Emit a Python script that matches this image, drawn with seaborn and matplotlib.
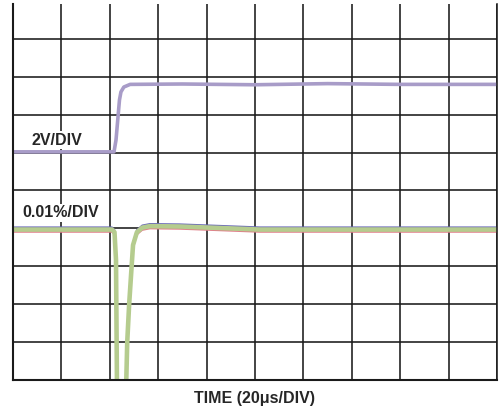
import numpy as np
import pandas as pd
import matplotlib
matplotlib.use("Agg")
import matplotlib.pyplot as plt
import matplotlib.transforms as mtransforms
import seaborn as sns

# ---- data (time in divisions, amplitude in divisions) ----
step_t = [0.0, 1.0, 2.087, 2.128, 2.20, 2.23, 2.29, 2.42, 3.5, 5.0, 6.5, 8.0, 10.0]
step_v = [6.02, 6.02, 6.02, 6.33, 7.39, 7.60, 7.73, 7.80, 7.81, 7.79, 7.82, 7.80, 7.80]

err_t = [0.0, 1.0, 2.045, 2.097, 2.128, 2.149, 2.335, 2.36, 2.40, 2.45, 2.48, 2.56,
         2.67, 2.83, 3.45, 4.28, 5.10, 7.0, 10.0]
err_v = [3.97, 3.97, 3.97, 3.90, 3.17, -0.30, -0.30, 1.0, 2.0, 2.98, 3.56, 3.90,
         4.02, 4.06, 4.05, 4.01, 3.97, 3.97, 3.97]

x_div = list(range(0, 11))
y_div = list(range(0, 10))

labels = {"step": "2V/DIV", "err": "0.01%/DIV", "x": "TIME (20μs/DIV)"}

sns.set_style("white")
plt.rcParams["font.family"] = ["Liberation Sans", "DejaVu Sans"]

fig = plt.figure(figsize=(4.99, 4.11), dpi=100)
ax = fig.add_axes([13 / 499, 31 / 411, 484 / 499, 376 / 411])

df_step = pd.DataFrame({"t": step_t, "v": step_v})
df_err = pd.DataFrame({"t": err_t, "v": err_v})

# thin companion traces (red below, blue above) then thick green
up = mtransforms.offset_copy(ax.transData, fig=fig, x=0, y=2.3, units="dots")
dn = mtransforms.offset_copy(ax.transData, fig=fig, x=0, y=-2.4, units="dots")
sns.lineplot(data=df_err, x="t", y="v", ax=ax, color="#6a6ab8", linewidth=1.2,
             estimator=None, sort=False, transform=up)
sns.lineplot(data=df_err, x="t", y="v", ax=ax, color="#e0808a", linewidth=1.2,
             estimator=None, sort=False, transform=dn)
sns.lineplot(data=df_err, x="t", y="v", ax=ax, color="#b5cc8e", linewidth=3.3,
             estimator=None, sort=False)
sns.lineplot(data=df_step, x="t", y="v", ax=ax, color="#a89cc8", linewidth=2.6,
             estimator=None, sort=False)

ax.set_xlim(0, 10)
ax.set_ylim(0, 376 / 37.9)
ax.set_xticks(x_div)
ax.set_yticks(y_div)
ax.set_xticklabels([])
ax.set_yticklabels([])
ax.tick_params(length=0)
ax.grid(True, color="#1a1a1a", linewidth=1.15)
ax.set_axisbelow(True)
for s in ["left", "bottom", "right"]:
    ax.spines[s].set_visible(True)
    ax.spines[s].set_color("#1a1a1a")
ax.spines["left"].set_linewidth(1.5)
ax.spines["bottom"].set_linewidth(1.5)
ax.spines["right"].set_linewidth(1.15)
ax.spines["top"].set_visible(False)

ax.set_xlabel(labels["x"], fontsize=11.5, fontweight="bold", labelpad=4.5)
ax.set_ylabel("")

ax.text(0.90, 6.33, labels["step"], fontsize=11.5, fontweight="bold",
        ha="center", va="center", zorder=5,
        bbox=dict(facecolor="white", edgecolor="none", pad=1.2))
ax.text(0.98, 4.41, labels["err"], fontsize=11.5, fontweight="bold",
        ha="center", va="center", zorder=5,
        bbox=dict(facecolor="white", edgecolor="none", pad=1.2))

fig.savefig("out.png", dpi=100)
